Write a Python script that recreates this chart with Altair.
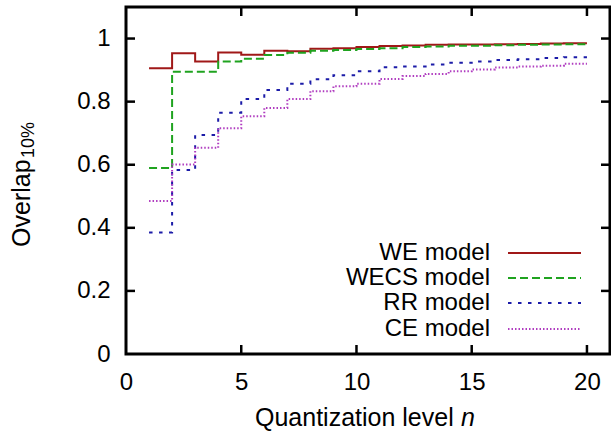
import altair as alt
import pandas as pd

# ---------------- data ----------------
n_levels = list(range(1, 21))
models = ["WE model", "WECS model", "RR model", "CE model"]
we_vals = [0.906, 0.953, 0.927, 0.956, 0.949, 0.961, 0.960, 0.968, 0.969, 0.973,
           0.976, 0.978, 0.980, 0.981, 0.981, 0.982, 0.983, 0.984, 0.985, 0.985]
wecs_vals = [0.590, 0.895, 0.895, 0.927, 0.936, 0.948, 0.955, 0.961, 0.964, 0.967,
             0.969, 0.973, 0.975, 0.977, 0.977, 0.979, 0.980, 0.981, 0.982, 0.983]
rr_vals = [0.385, 0.583, 0.694, 0.765, 0.808, 0.837, 0.857, 0.871, 0.884, 0.896,
           0.909, 0.911, 0.918, 0.923, 0.927, 0.932, 0.934, 0.938, 0.941, 0.941]
ce_vals = [0.485, 0.601, 0.654, 0.716, 0.754, 0.780, 0.808, 0.833, 0.849, 0.857,
           0.872, 0.881, 0.888, 0.896, 0.902, 0.908, 0.911, 0.914, 0.920, 0.920]
x_tick_vals = [0, 5, 10, 15, 20]
y_tick_vals = [0, 0.2, 0.4, 0.6, 0.8, 1.0]

# ---------------- style ----------------
FONT = "Liberation Sans"
colors = ["#a01818", "#1fa31f", "#1c1ca8", "#b03cc0"]
dashes = [[1, 0], [8, 4], [3.5, 6.5], [1.5, 2]]
W, H = 484, 347
xs = alt.Scale(domain=[0, 21], nice=False, zero=False)
ys = alt.Scale(domain=[0, 1.1], nice=False)
xax = alt.Axis(values=x_tick_vals, title=None, domain=False, ticks=False, tickSize=0,
               grid=False, labelFontSize=24, labelFont=FONT, labelColor="black",
               labelPadding=16, labelFlush=False)
yax = alt.Axis(values=y_tick_vals, title=None, domain=False, ticks=False, tickSize=0,
               grid=False, labelFontSize=24, labelFont=FONT, labelColor="black",
               labelPadding=16, format="~g")

series = [we_vals, wecs_vals, rr_vals, ce_vals]
layers = []
for i, (name, vals) in enumerate(zip(models, series)):
    df = pd.DataFrame({"n": n_levels, "v": vals})
    layers.append(
        alt.Chart(df).mark_line(interpolate="step-after", strokeWidth=2, color=colors[i],
                                strokeDash=dashes[i], strokeCap="butt")
        .encode(x=alt.X("n:Q", scale=xs, axis=xax), y=alt.Y("v:Q", scale=ys, axis=yax))
    )

# inward ticks on all four sides
xt = pd.DataFrame({"t": x_tick_vals[1:]})
yt = pd.DataFrame({"t": y_tick_vals[1:]})
tk = dict(color="black", strokeWidth=2.5)
layers.append(alt.Chart(xt).mark_rule(**tk).encode(
    x=alt.X("t:Q", scale=xs, axis=xax), y=alt.value(H), y2=alt.value(H - 9)))
layers.append(alt.Chart(xt).mark_rule(**tk).encode(
    x=alt.X("t:Q", scale=xs, axis=xax), y=alt.value(0), y2=alt.value(9)))
layers.append(alt.Chart(yt).mark_rule(**tk).encode(
    y=alt.Y("t:Q", scale=ys, axis=yax), x=alt.value(0), x2=alt.value(9)))
layers.append(alt.Chart(yt).mark_rule(**tk).encode(
    y=alt.Y("t:Q", scale=ys, axis=yax), x=alt.value(W), x2=alt.value(W - 9)))

# axis titles
layers.append(alt.Chart().mark_text(text="Quantization level", font=FONT, fontSize=25,
                                    align="left", baseline="alphabetic", color="black")
              .encode(x=alt.value(129), y=alt.value(419)))
layers.append(alt.Chart().mark_text(text="n", font=FONT, fontSize=25, fontStyle="italic",
                                    align="left", baseline="alphabetic", color="black")
              .encode(x=alt.value(335), y=alt.value(419)))
layers.append(alt.Chart().mark_text(text="Overlap", font=FONT, fontSize=25, angle=270,
                                    align="left", baseline="alphabetic", color="black")
              .encode(x=alt.value(-96.5), y=alt.value(240)))
layers.append(alt.Chart().mark_text(text="10%", font=FONT, fontSize=18, angle=270,
                                    align="left", baseline="alphabetic", color="black")
              .encode(x=alt.value(-92.5), y=alt.value(151)))

# legend (text left of sample line, gnuplot style)
leg_y = [246, 271, 296, 322]
for i, name in enumerate(models):
    layers.append(alt.Chart().mark_text(text=name, font=FONT, fontSize=24, align="right",
                                        baseline="middle", color="black")
                  .encode(x=alt.value(364), y=alt.value(leg_y[i])))
    layers.append(alt.Chart().mark_rule(color=colors[i], strokeWidth=2, strokeDash=dashes[i],
                                        strokeCap="butt")
                  .encode(x=alt.value(382), x2=alt.value(455), y=alt.value(leg_y[i])))

chart = (
    alt.layer(*layers)
    .properties(width=W, height=H,
                autosize=alt.AutoSizeParams(type="none"),
                padding={"left": 126, "top": 7, "right": 1, "bottom": 80},
                background="white")
    .configure_view(stroke="black", strokeWidth=3)
)
chart.save("out.html", embed_options={"renderer": "svg", "actions": False})
